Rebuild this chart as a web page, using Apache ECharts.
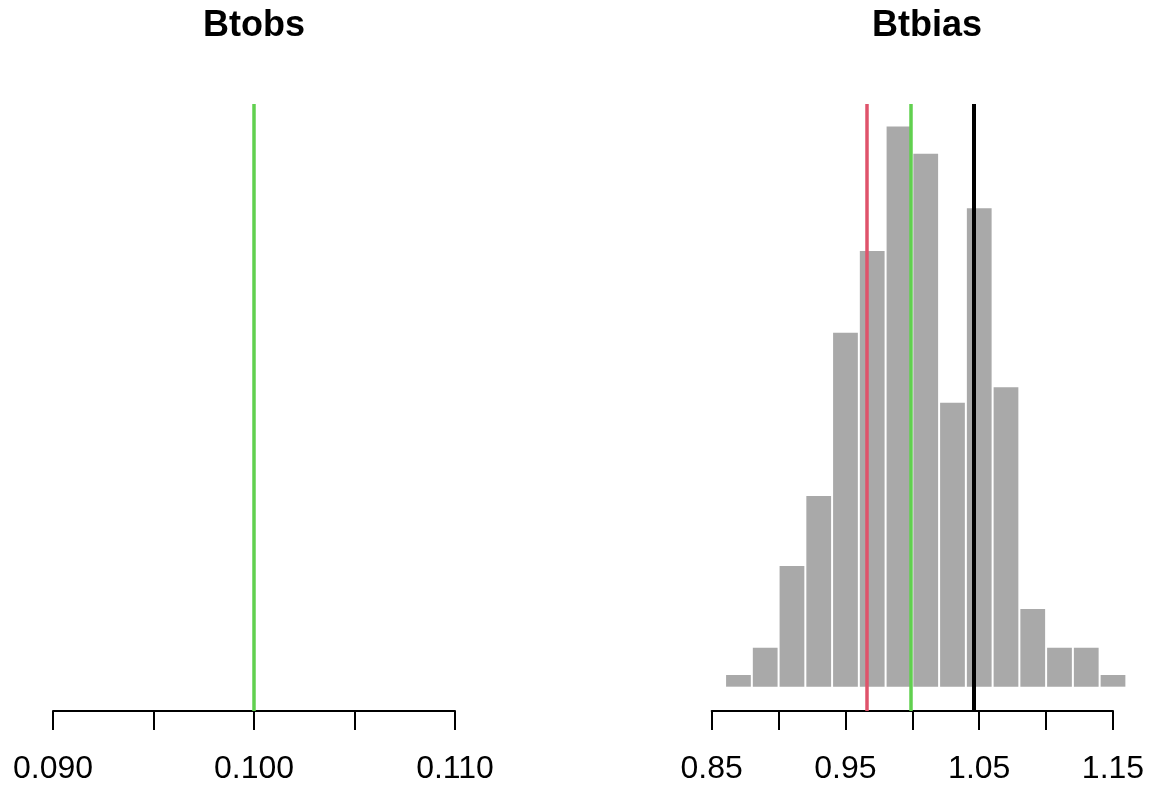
<!DOCTYPE html>
<html>
<head>
<meta charset="utf-8">
<title>Btobs / Btbias</title>
<script src="https://cdn.jsdelivr.net/npm/echarts@6/dist/echarts.min.js"></script>
<style>
  html, body { margin: 0; padding: 0; background: #ffffff; }
  #chart { width: 1151px; height: 789px; }
</style>
</head>
<body>
<div id="chart"></div>
<script>
// Panel titles
const panelTitles = ['Btobs', 'Btbias'];

// Btobs: single reference value
const btobsTicks = [0.090, 0.095, 0.100, 0.105, 0.110];
const btobsLabelled = ['0.090', '0.100', '0.110'];
const btobsTrue = 0.100;

// Btbias histogram: bin edges and counts
const binStarts = [0.86, 0.88, 0.90, 0.92, 0.94, 0.96, 0.98, 1.00, 1.02, 1.04, 1.06, 1.08, 1.10, 1.12, 1.14];
const binEnds   = [0.88, 0.90, 0.92, 0.94, 0.96, 0.98, 1.00, 1.02, 1.04, 1.06, 1.08, 1.10, 1.12, 1.14, 1.16];
const binCounts = [3, 10, 31, 49, 91, 112, 144, 137, 73, 123, 77, 20, 10, 10, 3];
const btbiasTicks = [0.85, 0.90, 0.95, 1.00, 1.05, 1.10, 1.15];
const btbiasLabelled = ['0.85', '0.95', '1.05', '1.15'];

// Btbias reference lines
const btbiasMedian = 0.966;   // red
const btbiasTrue = 0.999;     // green
const btbiasEst = 1.046;      // black

const GREEN = '#61D04F';
const RED = '#DF536B';
const BAR = '#A9A9A9';
const FONT = '"Liberation Sans", Arial, sans-serif';

const chart = echarts.init(document.getElementById('chart'), null, { renderer: 'canvas' });

function tickFormatter(labelled, digits) {
  return function (v) {
    const s = v.toFixed(digits);
    return labelled.indexOf(s) >= 0 ? s : '';
  };
}

function xAxisCfg(gridIndex, ticks, labelled, digits) {
  const step = +(ticks[1] - ticks[0]).toFixed(6);
  return {
    type: 'value',
    gridIndex: gridIndex,
    min: ticks[0],
    max: ticks[ticks.length - 1],
    interval: step,
    position: 'bottom',
    axisLine: { show: true, onZero: false, lineStyle: { color: '#000', width: 2 } },
    axisTick: { show: true, inside: false, length: 19, lineStyle: { color: '#000', width: 2 } },
    splitLine: { show: false },
    axisLabel: {
      show: true,
      margin: 58,
      verticalAlign: 'middle',
      color: '#000',
      fontFamily: FONT,
      fontSize: 32,
      hideOverlap: false,
      showMinLabel: true,
      showMaxLabel: true,
      formatter: tickFormatter(labelled, digits)
    }
  };
}

const yMax = 149.8;
const yMin = -6.25;

function refLines(values, colors, widths) {
  return {
    silent: true,
    precision: 6,
    symbol: ['none', 'none'],
    label: { show: false },
    data: values.map((v, i) => ({
      xAxis: v,
      lineStyle: { color: colors[i], width: widths[i], type: 'solid' }
    }))
  };
}

function titleText(text, cx) {
  return {
    type: 'text', x: cx, y: 8,
    style: { text: text, font: 'bold 36px ' + FONT, fill: '#000', align: 'center', verticalAlign: 'top' }
  };
}

const option = {
  animation: false,
  backgroundColor: '#ffffff',
  grid: [
    { left: 53, width: 402, top: 104, height: 607 },
    { left: 711.7, width: 401.3, top: 104, height: 607 }
  ],
  xAxis: [
    xAxisCfg(0, btobsTicks, btobsLabelled, 3),
    xAxisCfg(1, btbiasTicks, btbiasLabelled, 2)
  ],
  yAxis: [
    { type: 'value', gridIndex: 0, min: 0, max: 1, show: false },
    { type: 'value', gridIndex: 1, min: yMin, max: yMax, show: false }
  ],
  graphic: [
    titleText(panelTitles[0], 254),
    titleText(panelTitles[1], 927)
  ],
  series: [
    {
      // Btobs reference line
      type: 'line',
      xAxisIndex: 0, yAxisIndex: 0,
      data: [],
      z: 5,
      markLine: refLines([btobsTrue], [GREEN], [3.5])
    },
    {
      // Btbias histogram
      type: 'custom',
      xAxisIndex: 1, yAxisIndex: 1,
      clip: false,
      z: 2,
      data: binStarts.map((s, i) => [s, binEnds[i], binCounts[i]]),
      renderItem: function (params, api) {
        const p0 = api.coord([api.value(0), 0]);
        const p1 = api.coord([api.value(1), api.value(2)]);
        return {
          type: 'rect',
          shape: { x: p0[0] + 1, y: p1[1], width: p1[0] - p0[0] - 2, height: p0[1] - p1[1] },
          style: { fill: BAR }
        };
      }
    },
    {
      // Btbias reference lines
      type: 'line',
      xAxisIndex: 1, yAxisIndex: 1,
      data: [],
      z: 5,
      markLine: refLines([btbiasMedian, btbiasTrue, btbiasEst], [RED, GREEN, '#000'], [3.5, 3.5, 4])
    }
  ]
};

chart.setOption(option);
</script>
</body>
</html>
